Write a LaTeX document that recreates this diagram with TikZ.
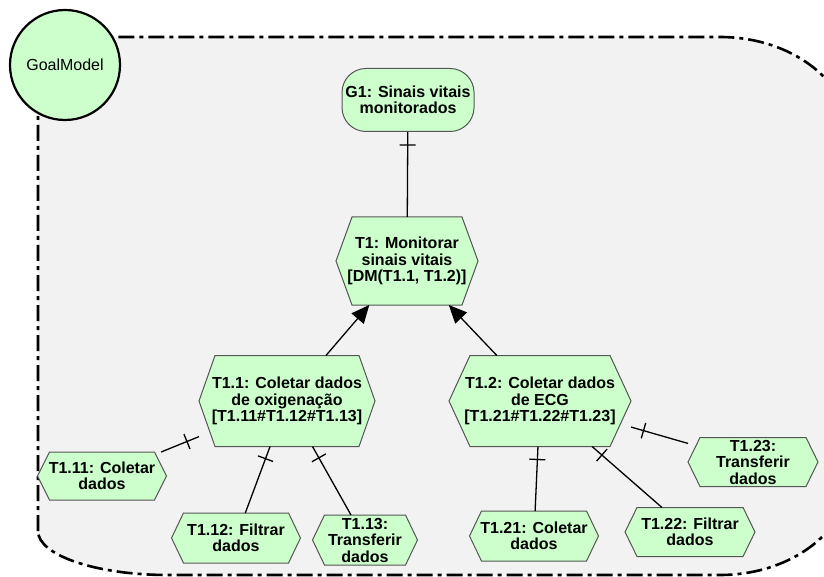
\documentclass[tikz,border=0pt]{standalone}
\usepackage{fontspec}
\setmainfont{Liberation Sans}
\usetikzlibrary{arrows.meta,decorations.markings}

\definecolor{nodefill}{HTML}{CCFFCC}
\definecolor{panel}{HTML}{F2F2F2}
\definecolor{nodeline}{HTML}{555555}

\pgfdeclarelayer{bg}
\pgfsetlayers{bg,main}

\tikzset{
  container/.style={fill=panel, draw=black, line width=2.6pt,
    dash pattern=on 16pt off 5pt on 4pt off 5pt},
  model/.style={circle, draw=black, line width=2.2pt, fill=nodefill,
    minimum size=110pt, inner sep=0pt, font=\fontsize{16}{16.5}\selectfont},
  goal/.style={rectangle, rounded corners=24pt, draw=nodeline, line width=1pt,
    fill=nodefill, inner sep=0pt, align=center,
    font=\fontsize{16}{16.5}\selectfont\bfseries},
  task/.style={rectangle, inner sep=0pt, outer sep=0pt, align=center,
    font=\fontsize{16}{16.5}\selectfont\bfseries},
  hexline/.style={draw=nodeline, line width=1pt, fill=nodefill},
  link/.style={draw=black, line width=1.3pt},
  refine/.style={link, postaction={decorate},
    decoration={markings, mark=at position 13pt with
      {\draw[line width=1.3pt] (0pt,-8pt) -- (0pt,8pt);}}},
  means/.style={link, -{Triangle[length=18pt,width=16pt]}},
}

% hexagonal outline behind a task node: #1 node name, #2 point inset
\newcommand\hexof[2]{%
  \begin{pgfonlayer}{bg}
    \path[hexline] (#1.west) -- ([xshift=#2]#1.north west)
      -- ([xshift=-#2]#1.north east) -- (#1.east)
      -- ([xshift=-#2]#1.south east) -- ([xshift=#2]#1.south west) -- cycle;
  \end{pgfonlayer}}

\begin{document}
\begin{tikzpicture}[x=1pt,y=-1pt]
\useasboundingbox (0,0) rectangle (824,577);

% model boundary
\begin{pgfonlayer}{bg}
  \path[container] (38,531) -- (38,117)
    arc[start angle=180, end angle=90, radius=80pt]
    -- (720,37)
    arc[start angle=90, end angle=0, x radius=130pt, y radius=100pt]
    -- (850,475)
    arc[start angle=0, end angle=-90, x radius=130pt, y radius=100pt]
    -- (168,575)
    arc[start angle=270, end angle=180, x radius=130pt, y radius=44pt]
    -- cycle;
\end{pgfonlayer}

\node[model] (gm) at (65,65) {GoalModel};

% goal
\node[goal, minimum width=132pt, minimum height=63pt] (g1) at (408,100)
  {G1: Sinais vitais\\monitorados};

% tasks
\node[task, minimum width=142pt, minimum height=88pt] (t1) at (407,261)
  {T1: Monitorar\\sinais vitais\\{[}DM(T1.1, T1.2)]};
\hexof{t1}{16pt}

\node[task, minimum width=176pt, minimum height=91pt] (t1a) at (287,401)
  {T1.1: Coletar dados\\de oxigenação\\{[}T1.11\#T1.12\#T1.13]};
\hexof{t1a}{16pt}

\node[task, minimum width=182pt, minimum height=91pt] (t1b) at (540,401)
  {T1.2: Coletar dados\\de ECG\\{[}T1.21\#T1.22\#T1.23]};
\hexof{t1b}{21pt}

\node[task, minimum width=129pt, minimum height=48pt] (t1aa) at (102,476)
  {T1.11: Coletar\\dados};
\hexof{t1aa}{12pt}

\node[task, minimum width=129pt, minimum height=50pt] (t1ab) at (236,538)
  {T1.12: Filtrar\\dados};
\hexof{t1ab}{12pt}

\node[task, minimum width=105pt, minimum height=50pt] (t1ac) at (365,540)
  {T1.13:\\Transferir\\dados};
\hexof{t1ac}{12pt}

\node[task, minimum width=129pt, minimum height=50pt] (t1ba) at (534,536)
  {T1.21: Coletar\\dados};
\hexof{t1ba}{12pt}

\node[task, minimum width=130pt, minimum height=49pt] (t1bb) at (690,532)
  {T1.22: Filtrar\\dados};
\hexof{t1bb}{12pt}

\node[task, minimum width=130pt, minimum height=49pt] (t1bc) at (753,462)
  {T1.23:\\Transferir\\dados};
\hexof{t1bc}{12pt}

% connectors
\draw[refine] (g1) -- (t1);
\draw[means] (t1a) -- (t1);
\draw[means] (t1b) -- (t1);
\draw[refine] (t1a) -- (t1aa);
\draw[refine] (t1a) -- (t1ab);
\draw[refine] (t1a) -- (t1ac);
\draw[refine] (t1b) -- (t1ba);
\draw[refine] (t1b) -- (t1bb);
\draw[refine] (t1b) -- (t1bc);
\end{tikzpicture}
\end{document}
